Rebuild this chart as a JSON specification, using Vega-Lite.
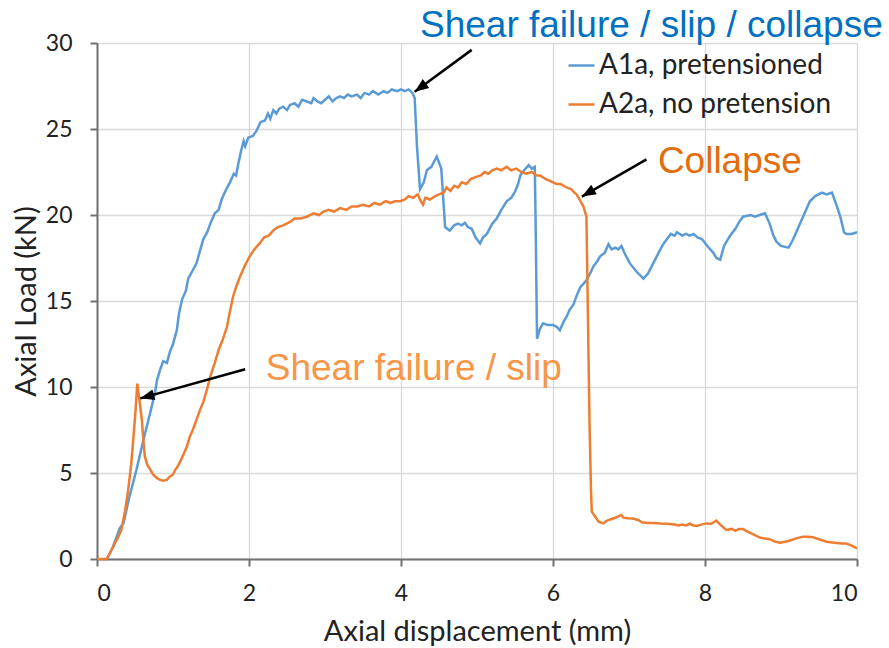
{
  "$schema": "https://vega.github.io/schema/vega-lite/v6.json",
  "width": 760,
  "height": 516,
  "autosize": "none",
  "padding": {"left": 97, "top": 43, "right": 32, "bottom": 89},
  "background": "white",
  "config": {
    "view": {"stroke": null},
    "axis": {
      "labelFont": "Lato", "labelFontSize": 23, "labelColor": "#222222",
      "titleFont": "Lato", "titleFontSize": 29, "titleFontWeight": "normal", "titleColor": "#222222",
      "gridColor": "#d9d9d9", "gridWidth": 1.3,
      "domainColor": "#707070", "domainWidth": 2,
      "tickColor": "#707070", "tickWidth": 2, "tickSize": 7
    }
  },
  "datasets": {
    "a1a": [
      {"x":0.13,"y":0},{"x":0.21,"y":0.7},{"x":0.3,"y":1.8},{"x":0.35,"y":2.1},{"x":0.42,"y":3.5},{"x":0.52,"y":5.2},{"x":0.61,"y":6.9},{"x":0.7,"y":8.5},{"x":0.76,"y":9.6},{"x":0.79,"y":10.4},{"x":0.83,"y":11.0},{"x":0.87,"y":11.5},{"x":0.92,"y":11.4},{"x":0.96,"y":12.05},{"x":1.0,"y":12.5},{"x":1.05,"y":13.3},{"x":1.08,"y":14.3},{"x":1.12,"y":15.1},{"x":1.17,"y":15.6},{"x":1.2,"y":16.3},{"x":1.25,"y":16.7},{"x":1.31,"y":17.2},{"x":1.36,"y":18.0},{"x":1.4,"y":18.6},{"x":1.45,"y":19.0},{"x":1.5,"y":19.6},{"x":1.55,"y":20.1},{"x":1.6,"y":20.3},{"x":1.64,"y":20.9},{"x":1.7,"y":21.5},{"x":1.75,"y":21.9},{"x":1.8,"y":22.4},{"x":1.83,"y":22.3},{"x":1.86,"y":23.0},{"x":1.9,"y":23.8},{"x":1.93,"y":24.3},{"x":1.95,"y":24.0},{"x":1.99,"y":24.5},{"x":2.05,"y":24.6},{"x":2.1,"y":24.9},{"x":2.15,"y":25.4},{"x":2.21,"y":25.5},{"x":2.25,"y":25.9},{"x":2.28,"y":25.6},{"x":2.32,"y":26.1},{"x":2.36,"y":25.9},{"x":2.4,"y":26.2},{"x":2.45,"y":26.3},{"x":2.5,"y":26.1},{"x":2.54,"y":26.4},{"x":2.6,"y":26.5},{"x":2.65,"y":26.3},{"x":2.7,"y":26.7},{"x":2.76,"y":26.6},{"x":2.82,"y":26.5},{"x":2.85,"y":26.8},{"x":2.9,"y":26.6},{"x":2.95,"y":26.5},{"x":3.0,"y":26.7},{"x":3.05,"y":26.9},{"x":3.1,"y":26.6},{"x":3.15,"y":26.8},{"x":3.2,"y":26.9},{"x":3.25,"y":26.8},{"x":3.3,"y":27.0},{"x":3.35,"y":26.9},{"x":3.42,"y":27.0},{"x":3.47,"y":26.8},{"x":3.52,"y":27.1},{"x":3.58,"y":27.0},{"x":3.63,"y":27.2},{"x":3.7,"y":27.0},{"x":3.77,"y":27.2},{"x":3.82,"y":27.1},{"x":3.88,"y":27.3},{"x":3.95,"y":27.2},{"x":4.0,"y":27.3},{"x":4.05,"y":27.2},{"x":4.1,"y":27.3},{"x":4.15,"y":27.1},{"x":4.18,"y":26.8},{"x":4.21,"y":24.0},{"x":4.25,"y":21.5},{"x":4.3,"y":21.9},{"x":4.34,"y":22.6},{"x":4.4,"y":22.8},{"x":4.47,"y":23.4},{"x":4.53,"y":22.7},{"x":4.58,"y":19.3},{"x":4.64,"y":19.1},{"x":4.7,"y":19.4},{"x":4.75,"y":19.5},{"x":4.8,"y":19.4},{"x":4.84,"y":19.55},{"x":4.88,"y":19.3},{"x":4.93,"y":19.2},{"x":4.98,"y":18.7},{"x":5.04,"y":18.35},{"x":5.08,"y":18.7},{"x":5.13,"y":18.9},{"x":5.2,"y":19.5},{"x":5.26,"y":19.8},{"x":5.32,"y":20.3},{"x":5.39,"y":20.8},{"x":5.45,"y":21.0},{"x":5.5,"y":21.35},{"x":5.54,"y":21.8},{"x":5.57,"y":22.3},{"x":5.62,"y":22.6},{"x":5.68,"y":22.9},{"x":5.72,"y":22.7},{"x":5.76,"y":22.8},{"x":5.77,"y":20.0},{"x":5.79,"y":12.8},{"x":5.83,"y":13.4},{"x":5.87,"y":13.7},{"x":5.93,"y":13.6},{"x":6.0,"y":13.6},{"x":6.05,"y":13.5},{"x":6.09,"y":13.3},{"x":6.14,"y":13.8},{"x":6.18,"y":14.1},{"x":6.22,"y":14.5},{"x":6.27,"y":14.8},{"x":6.31,"y":15.3},{"x":6.36,"y":15.8},{"x":6.4,"y":16.0},{"x":6.44,"y":16.2},{"x":6.5,"y":16.7},{"x":6.53,"y":17.0},{"x":6.58,"y":17.3},{"x":6.62,"y":17.6},{"x":6.68,"y":17.8},{"x":6.73,"y":18.3},{"x":6.77,"y":18.0},{"x":6.82,"y":18.1},{"x":6.86,"y":18.0},{"x":6.9,"y":18.2},{"x":6.95,"y":17.7},{"x":7.01,"y":17.2},{"x":7.1,"y":16.7},{"x":7.19,"y":16.3},{"x":7.25,"y":16.6},{"x":7.32,"y":17.2},{"x":7.4,"y":17.9},{"x":7.45,"y":18.3},{"x":7.5,"y":18.6},{"x":7.55,"y":18.9},{"x":7.6,"y":18.8},{"x":7.63,"y":19.0},{"x":7.7,"y":18.8},{"x":7.75,"y":18.9},{"x":7.8,"y":18.8},{"x":7.85,"y":18.9},{"x":7.9,"y":18.7},{"x":7.96,"y":18.6},{"x":8.03,"y":18.2},{"x":8.11,"y":17.8},{"x":8.15,"y":17.5},{"x":8.2,"y":17.4},{"x":8.25,"y":18.2},{"x":8.33,"y":18.8},{"x":8.4,"y":19.2},{"x":8.45,"y":19.6},{"x":8.5,"y":19.9},{"x":8.6,"y":20.0},{"x":8.66,"y":19.9},{"x":8.72,"y":20.0},{"x":8.79,"y":20.1},{"x":8.85,"y":19.5},{"x":8.9,"y":18.8},{"x":8.94,"y":18.45},{"x":9.0,"y":18.2},{"x":9.1,"y":18.1},{"x":9.15,"y":18.5},{"x":9.21,"y":19.1},{"x":9.3,"y":20.0},{"x":9.38,"y":20.8},{"x":9.45,"y":21.1},{"x":9.54,"y":21.3},{"x":9.6,"y":21.2},{"x":9.67,"y":21.3},{"x":9.72,"y":20.7},{"x":9.78,"y":19.9},{"x":9.83,"y":19.0},{"x":9.86,"y":18.9},{"x":9.93,"y":18.9},{"x":10.0,"y":19.0}
    ],
    "a2a": [
      {"x":0.0,"y":0},{"x":0.13,"y":0},{"x":0.21,"y":0.7},{"x":0.27,"y":1.2},{"x":0.32,"y":1.7},{"x":0.37,"y":2.8},{"x":0.41,"y":4.0},{"x":0.45,"y":5.5},{"x":0.48,"y":7.1},{"x":0.51,"y":8.8},{"x":0.53,"y":10.2},{"x":0.56,"y":9.2},{"x":0.59,"y":8.1},{"x":0.61,"y":6.9},{"x":0.63,"y":5.95},{"x":0.66,"y":5.5},{"x":0.7,"y":5.2},{"x":0.74,"y":4.9},{"x":0.79,"y":4.7},{"x":0.83,"y":4.6},{"x":0.87,"y":4.55},{"x":0.92,"y":4.6},{"x":0.96,"y":4.8},{"x":1.0,"y":4.9},{"x":1.03,"y":5.2},{"x":1.05,"y":5.3},{"x":1.1,"y":5.7},{"x":1.14,"y":6.1},{"x":1.18,"y":6.5},{"x":1.22,"y":7.1},{"x":1.26,"y":7.5},{"x":1.31,"y":8.1},{"x":1.35,"y":8.6},{"x":1.4,"y":9.15},{"x":1.45,"y":9.9},{"x":1.49,"y":10.6},{"x":1.55,"y":11.4},{"x":1.6,"y":12.15},{"x":1.65,"y":12.7},{"x":1.71,"y":13.5},{"x":1.75,"y":14.4},{"x":1.79,"y":15.25},{"x":1.83,"y":15.8},{"x":1.88,"y":16.4},{"x":1.94,"y":17.0},{"x":2.01,"y":17.6},{"x":2.07,"y":18.0},{"x":2.14,"y":18.35},{"x":2.2,"y":18.7},{"x":2.26,"y":18.8},{"x":2.32,"y":19.1},{"x":2.38,"y":19.3},{"x":2.45,"y":19.4},{"x":2.54,"y":19.6},{"x":2.6,"y":19.8},{"x":2.68,"y":19.8},{"x":2.76,"y":19.9},{"x":2.85,"y":20.1},{"x":2.92,"y":20.0},{"x":2.98,"y":20.2},{"x":3.05,"y":20.3},{"x":3.12,"y":20.2},{"x":3.2,"y":20.4},{"x":3.28,"y":20.3},{"x":3.35,"y":20.5},{"x":3.42,"y":20.5},{"x":3.5,"y":20.6},{"x":3.58,"y":20.5},{"x":3.65,"y":20.7},{"x":3.72,"y":20.6},{"x":3.8,"y":20.8},{"x":3.86,"y":20.7},{"x":3.92,"y":20.8},{"x":3.99,"y":20.8},{"x":4.05,"y":20.9},{"x":4.1,"y":21.1},{"x":4.16,"y":21.0},{"x":4.22,"y":21.2},{"x":4.26,"y":20.8},{"x":4.29,"y":20.6},{"x":4.32,"y":21.0},{"x":4.38,"y":20.9},{"x":4.45,"y":21.1},{"x":4.5,"y":21.2},{"x":4.56,"y":21.3},{"x":4.6,"y":21.6},{"x":4.65,"y":21.4},{"x":4.7,"y":21.7},{"x":4.75,"y":21.6},{"x":4.8,"y":21.9},{"x":4.86,"y":21.8},{"x":4.92,"y":22.1},{"x":4.98,"y":22.2},{"x":5.05,"y":22.3},{"x":5.1,"y":22.5},{"x":5.15,"y":22.4},{"x":5.2,"y":22.6},{"x":5.26,"y":22.7},{"x":5.32,"y":22.6},{"x":5.39,"y":22.8},{"x":5.45,"y":22.6},{"x":5.52,"y":22.7},{"x":5.58,"y":22.5},{"x":5.65,"y":22.4},{"x":5.72,"y":22.5},{"x":5.78,"y":22.3},{"x":5.83,"y":22.3},{"x":5.9,"y":22.1},{"x":5.95,"y":22.0},{"x":6.0,"y":21.9},{"x":6.05,"y":21.8},{"x":6.1,"y":21.8},{"x":6.14,"y":21.7},{"x":6.18,"y":21.6},{"x":6.24,"y":21.5},{"x":6.28,"y":21.3},{"x":6.31,"y":21.2},{"x":6.35,"y":20.9},{"x":6.4,"y":20.5},{"x":6.44,"y":19.9},{"x":6.46,"y":14.0},{"x":6.48,"y":8.0},{"x":6.5,"y":4.0},{"x":6.51,"y":2.75},{"x":6.55,"y":2.5},{"x":6.6,"y":2.17},{"x":6.66,"y":2.07},{"x":6.7,"y":2.2},{"x":6.75,"y":2.3},{"x":6.82,"y":2.4},{"x":6.9,"y":2.56},{"x":6.93,"y":2.4},{"x":6.99,"y":2.37},{"x":7.05,"y":2.35},{"x":7.12,"y":2.27},{"x":7.17,"y":2.13},{"x":7.25,"y":2.1},{"x":7.33,"y":2.1},{"x":7.41,"y":2.07},{"x":7.5,"y":2.05},{"x":7.6,"y":2.0},{"x":7.65,"y":1.95},{"x":7.7,"y":2.0},{"x":7.75,"y":1.95},{"x":7.8,"y":2.05},{"x":7.85,"y":1.95},{"x":7.89,"y":1.92},{"x":7.95,"y":2.0},{"x":8.02,"y":2.07},{"x":8.08,"y":2.05},{"x":8.15,"y":2.23},{"x":8.2,"y":2.0},{"x":8.28,"y":1.69},{"x":8.35,"y":1.75},{"x":8.4,"y":1.65},{"x":8.45,"y":1.75},{"x":8.5,"y":1.74},{"x":8.58,"y":1.55},{"x":8.65,"y":1.4},{"x":8.72,"y":1.25},{"x":8.77,"y":1.2},{"x":8.85,"y":1.15},{"x":8.93,"y":1.0},{"x":8.99,"y":0.95},{"x":9.1,"y":1.05},{"x":9.2,"y":1.2},{"x":9.29,"y":1.3},{"x":9.35,"y":1.3},{"x":9.42,"y":1.26},{"x":9.5,"y":1.15},{"x":9.6,"y":1.0},{"x":9.7,"y":0.95},{"x":9.8,"y":0.9},{"x":9.86,"y":0.9},{"x":9.93,"y":0.78},{"x":10.0,"y":0.62}
    ],
    "arrows": [
      {"name":"top","x":4.93,"y":29.6,"x2":4.18,"y2":27.17},
      {"name":"collapse","x":7.23,"y":23.23,"x2":6.38,"y2":21.07},
      {"name":"slip","x":1.95,"y":11.03,"x2":0.57,"y2":9.34}
    ],
    "labels": [
      {"name":"top","label":"Shear failure / slip / collapse","x":4.25,"y":30.35},
      {"name":"collapse","label":"Collapse","x":7.38,"y":22.46},
      {"name":"slip","label":"Shear failure / slip","x":2.22,"y":10.4}
    ]
  },
  "encoding": {
    "x": {"field": "x", "type": "quantitative", "scale": {"domain": [0, 10], "nice": false},
          "axis": {"values": [0,2,4,6,8,10], "title": "Axial displacement (mm)", "labelPadding": 16, "titlePadding": 12}},
    "y": {"field": "y", "type": "quantitative", "scale": {"domain": [0, 30], "nice": false},
          "axis": {"values": [0,5,10,15,20,25,30], "title": "Axial Load (kN)", "labelPadding": 18, "titlePadding": 4}}
  },
  "layer": [
    {
      "data": {"name": "a1a"},
      "mark": {"type": "line", "strokeWidth": 2.5, "interpolate": "linear"},
      "encoding": {
        "color": {"datum": "A1a, pretensioned", "type": "nominal",
          "scale": {"domain": ["A1a, pretensioned", "A2a, no pretension"], "range": ["#5B9BD5", "#ED7D31"]},
          "legend": {"title": null, "orient": "none", "legendX": 470, "legendY": 8, "padding": 0,
            "labelFont": "Lato", "labelFontSize": 28, "labelColor": "#222222", "labelOffset": 3, "labelLimit": 500,
            "symbolType": "stroke", "symbolSize": 676, "symbolStrokeWidth": 2.5, "rowPadding": 10}}
      }
    },
    {
      "data": {"name": "a2a"},
      "mark": {"type": "line", "strokeWidth": 2.5, "interpolate": "linear"},
      "encoding": {"color": {"datum": "A2a, no pretension", "type": "nominal"}}
    },
    {
      "data": {"name": "arrows"},
      "mark": {"type": "rule", "color": "black", "strokeWidth": 2.5},
      "encoding": {"x2": {"field": "x2"}, "y2": {"field": "y2"}}
    },
    {
      "data": {"name": "arrows"},
      "transform": [{"filter": "datum.name == 'top'"}],
      "mark": {"type": "point", "shape": "M0,0L0.55,1.4L-0.55,1.4Z", "filled": true, "color": "black", "opacity": 1, "size": 400, "angle": 234},
      "encoding": {"x": {"field": "x2", "type": "quantitative"}, "y": {"field": "y2", "type": "quantitative"}}
    },
    {
      "data": {"name": "arrows"},
      "transform": [{"filter": "datum.name == 'collapse'"}],
      "mark": {"type": "point", "shape": "M0,0L0.55,1.4L-0.55,1.4Z", "filled": true, "color": "black", "opacity": 1, "size": 400, "angle": 240},
      "encoding": {"x": {"field": "x2", "type": "quantitative"}, "y": {"field": "y2", "type": "quantitative"}}
    },
    {
      "data": {"name": "arrows"},
      "transform": [{"filter": "datum.name == 'slip'"}],
      "mark": {"type": "point", "shape": "M0,0L0.55,1.4L-0.55,1.4Z", "filled": true, "color": "black", "opacity": 1, "size": 400, "angle": 255},
      "encoding": {"x": {"field": "x2", "type": "quantitative"}, "y": {"field": "y2", "type": "quantitative"}}
    },
    {
      "data": {"name": "labels"},
      "transform": [{"filter": "datum.name == 'top'"}],
      "mark": {"type": "text", "font": "Liberation Sans", "fontSize": 37, "color": "#0070C0", "align": "left", "baseline": "alphabetic"},
      "encoding": {"text": {"field": "label"}}
    },
    {
      "data": {"name": "labels"},
      "transform": [{"filter": "datum.name == 'collapse'"}],
      "mark": {"type": "text", "font": "Liberation Sans", "fontSize": 37, "color": "#E46C0A", "align": "left", "baseline": "alphabetic"},
      "encoding": {"text": {"field": "label"}}
    },
    {
      "data": {"name": "labels"},
      "transform": [{"filter": "datum.name == 'slip'"}],
      "mark": {"type": "text", "font": "Liberation Sans", "fontSize": 37, "color": "#F79646", "align": "left", "baseline": "alphabetic"},
      "encoding": {"text": {"field": "label"}}
    }
  ]
}
